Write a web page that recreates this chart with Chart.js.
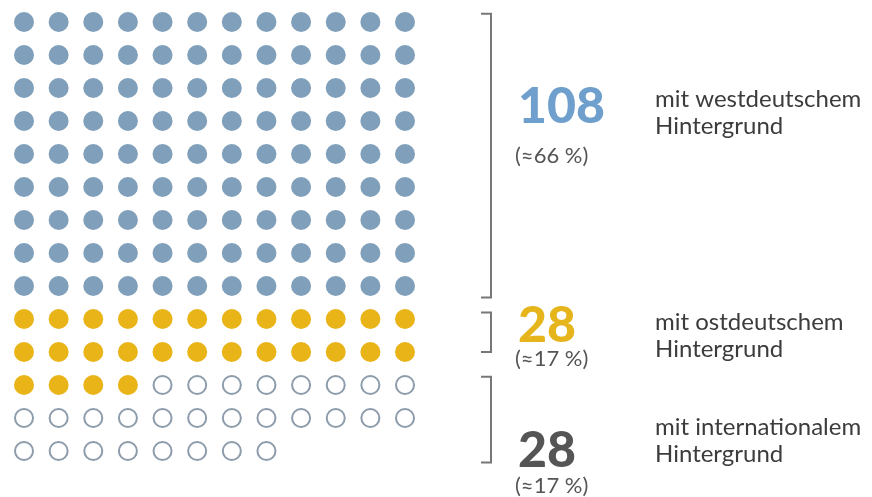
<!DOCTYPE html>
<html>
<head>
<meta charset="utf-8">
<script src="https://cdn.jsdelivr.net/npm/chart.js@4/dist/chart.umd.min.js"></script>
<style>
  html, body { margin: 0; padding: 0; background: #fff; }
  #wrap { width: 872px; height: 497px; }
</style>
</head>
<body>
<div id="wrap"><canvas id="waffle"></canvas></div>
<script>
const groups = ['mit westdeutschem Hintergrund', 'mit ostdeutschem Hintergrund', 'mit internationalem Hintergrund']
const counts = [108, 28, 28]
const shares = ['(≈66 %)', '(≈17 %)', '(≈17 %)']
const perRow = 12

const dotFill = ['#7f9fba', '#e9b417', '#ffffff']
const dotLine = ['#7f9fba', '#e9b417', '#8d9cab']
const numColor = ['#6e9fcd', '#e6b41b', '#555555']

// dots laid out row by row, 12 per row
let idx = 0
const datasets = counts.map((n, g) => {
  const pts = []
  for (let i = 0; i < n; i++, idx++) {
    pts.push({ x: idx % perRow, y: Math.floor(idx / perRow) })
  }
  return {
    label: groups[g],
    data: pts,
    pointRadius: g === 2 ? 9 : 10,
    pointHoverRadius: g === 2 ? 9 : 10,
    pointBackgroundColor: dotFill[g],
    pointBorderColor: dotLine[g],
    pointBorderWidth: g === 2 ? 2 : 0,
    showLine: false,
    clip: false
  }
})

const legendSide = {
  id: 'legendSide',
  afterDraw(chart) {
    const c = chart.ctx
    const ys = chart.scales.y
    // bracket spans in row units
    const spans = [[-0.25, 8.35], [8.8, 10.0], [10.75, 13.35]]
    c.save()
    c.strokeStyle = '#777'
    c.lineWidth = 2
    spans.forEach(([a, b]) => {
      const y1 = ys.getPixelForValue(a), y2 = ys.getPixelForValue(b)
      c.beginPath()
      c.moveTo(481, y1); c.lineTo(491, y1); c.lineTo(491, y2); c.lineTo(481, y2)
      c.stroke()
    })

    const numY = [123, 342, 467]
    const shareY = [163, 366, 493]
    const textY = [[107, 134], [330, 357], [435, 462]]
    groups.forEach((g, i) => {
      c.textBaseline = 'alphabetic'
      c.fillStyle = numColor[i]
      c.font = '900 50px Lato'
      c.fillText(String(counts[i]), 518, numY[i])
      c.fillStyle = '#555'
      c.font = '22px Lato'
      c.fillText(shares[i], 515, shareY[i])
      const words = g.split(' ')
      c.font = '24px Lato'
      c.fillStyle = '#3c3c3c'
      c.fillText(words.slice(0, 2).join(' '), 655, textY[i][0])
      c.fillText(words.slice(2).join(' '), 655, textY[i][1])
    })
    c.restore()
  }
}

new Chart(document.getElementById('waffle'), {
  type: 'scatter',
  data: { datasets },
  options: {
    responsive: true,
    maintainAspectRatio: false,
    animation: false,
    layout: { padding: { left: 24, right: 467, top: 22, bottom: 46 } },
    scales: {
      x: { min: 0, max: 11, display: false },
      y: { min: 0, max: 13, reverse: true, display: false }
    },
    plugins: {
      legend: { display: false },
      tooltip: { enabled: false }
    }
  },
  plugins: [legendSide]
})
</script>
</body>
</html>
